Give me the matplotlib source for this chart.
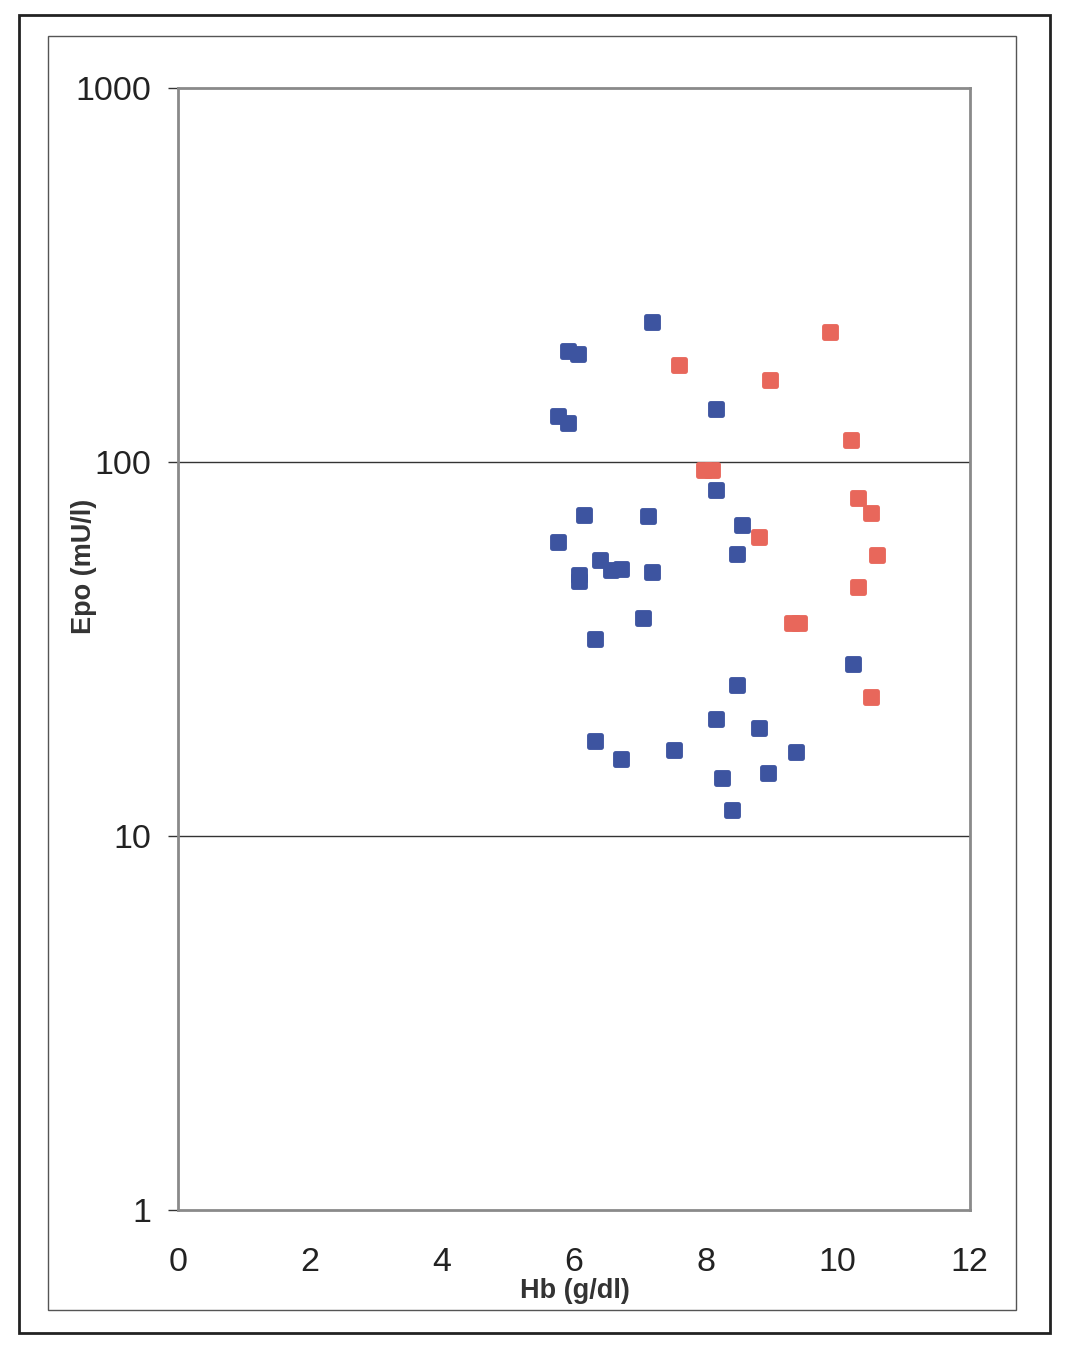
import matplotlib
matplotlib.use("Agg")
import matplotlib.pyplot as plt
from matplotlib.patches import Rectangle

plt.rcParams['font.family'] = ['Liberation Sans', 'DejaVu Sans']

# Blue series (Hb g/dl, Epo mU/l)
blue_hb = [7.18, 5.91, 6.06, 5.76, 5.91, 8.15, 8.15, 6.15, 7.12, 8.55, 5.76, 8.48,
           6.39, 6.56, 6.71, 7.18, 6.08, 6.08, 7.05, 6.32, 10.23, 8.48, 8.15, 8.80,
           6.32, 7.52, 9.36, 6.71, 8.24, 8.95, 8.39]
blue_epo = [236.6, 198, 194, 133, 127, 138.6, 84.2, 72.2, 71.8, 67.9, 61.1, 56.8,
            54.7, 51.4, 51.7, 50.8, 49.9, 48.0, 38.3, 33.6, 28.8, 25.4, 20.5, 19.4,
            17.9, 17.0, 16.8, 16.1, 14.3, 14.7, 11.7]

# Red series
red_hb = [9.89, 7.59, 8.98, 10.20, 7.98, 8.09, 10.30, 10.50, 8.80, 10.59, 10.30,
          9.30, 9.41, 10.50]
red_epo = [222.6, 181.6, 165.6, 114.5, 95.2, 95.2, 80.1, 73.1, 63.0, 56.4, 46.3,
           37.1, 37.1, 23.5]

x_ticks = [0, 2, 4, 6, 8, 10, 12]
y_ticks = [1, 10, 100, 1000]
y_ticklabels = ['1', '10', '100', '1000']

fig = plt.figure(figsize=(10.92, 13.56), dpi=100)
fig.patches.append(Rectangle((0.0174, 0.017), 0.944, 0.972, transform=fig.transFigure,
                             fill=False, edgecolor='#222222', linewidth=2.0))
fig.patches.append(Rectangle((0.044, 0.0339), 0.8864, 0.9395, transform=fig.transFigure,
                             fill=False, edgecolor='#555555', linewidth=1.0))

ax = fig.add_axes([0.163, 0.1077, 0.725, 0.8274])
ax.set_yscale('log')
ax.set_xlim(0, 12)
ax.set_ylim(1, 1000)

for y in [10, 100]:
    ax.axhline(y, color='#333333', linewidth=1.0, zorder=1)

kw = dict(marker='s', s=70, linewidths=3.5, zorder=3)
ax.scatter(blue_hb, blue_epo, color='#3d54a0', edgecolors='#3d54a0', **kw)
ax.scatter(red_hb, red_epo, color='#e8675b', edgecolors='#e8675b', **kw)
for coll in ax.collections:
    coll.set_joinstyle('round')

for s in ax.spines.values():
    s.set_color('#8a8a8a')
    s.set_linewidth(2.0)

ax.set_xticks(x_ticks)
ax.set_xticklabels([str(v) for v in x_ticks])
ax.set_yticks(y_ticks)
ax.set_yticklabels(y_ticklabels)
ax.yaxis.set_minor_locator(matplotlib.ticker.NullLocator())
ax.tick_params(axis='y', length=7, width=1, color='#333333', pad=12, labelsize=24.5,
               labelcolor='#222222')
ax.tick_params(axis='x', length=0, pad=27, labelsize=24.5, labelcolor='#222222')

ax.set_xlabel('Hb (g/dl)', fontsize=19.5, fontweight='bold', color='#333333')
ax.set_ylabel('Epo (mU/l)', fontsize=19.5, fontweight='bold', color='#333333')
ax.xaxis.set_label_coords(0.501, -0.061)
ax.yaxis.set_label_coords(-0.102, 0.574)

fig.savefig('out.png', dpi=100)
